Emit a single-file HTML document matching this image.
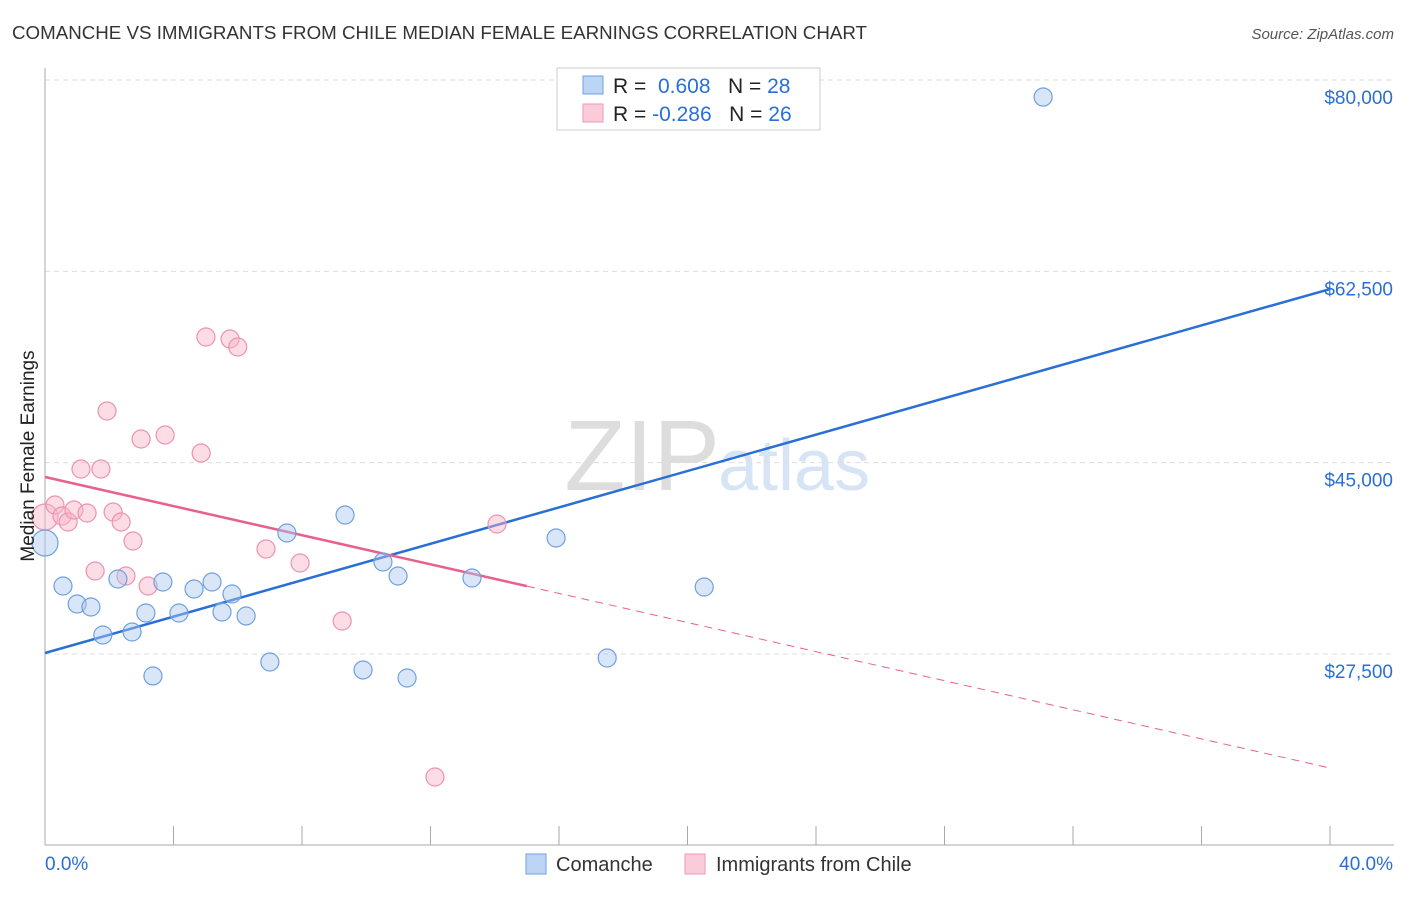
<!DOCTYPE html>
<html><head><meta charset="utf-8"><style>
body{margin:0;background:#fff;font-family:"Liberation Sans",sans-serif;}
svg text{font-family:"Liberation Sans",sans-serif;}
</style></head><body>
<svg width="1406" height="892" id="c">
<text x="12" y="39" font-size="18" fill="#333" textLength="855" lengthAdjust="spacingAndGlyphs">COMANCHE VS IMMIGRANTS FROM CHILE MEDIAN FEMALE EARNINGS CORRELATION CHART</text>
<text x="1394" y="39" font-size="15" fill="#555" text-anchor="end" font-style="italic">Source: ZipAtlas.com</text>
<text x="720" y="490" font-size="100" fill="#ddd" text-anchor="end" font-family="Liberation Serif">ZIP</text>
<text x="718" y="490" font-size="72" fill="#d6e4f5">atlas</text>
<g id="grid"></g><g id="axes"></g><g id="lines"></g><g id="pts"></g>
<text x="34" y="456" font-size="19" fill="#222" text-anchor="middle" transform="rotate(-90 34 456)">Median Female Earnings</text>
<g>
<rect x="557" y="68" width="263" height="62" fill="#fff" stroke="#ccc"/>
<rect x="583" y="76" width="20" height="18" fill="#bcd5f5" stroke="#6fa0e0"/>
<rect x="583" y="104" width="20" height="18" fill="#fbcbd9" stroke="#ee9ab4"/>
<text x="613" y="93" font-size="21" fill="#222">R = <tspan fill="#2a6fd6">&#160;0.608</tspan>&#160;&#160;&#160;N = <tspan fill="#2a6fd6">28</tspan></text>
<text x="613" y="121" font-size="21" fill="#222">R = <tspan fill="#2a6fd6">-0.286</tspan>&#160;&#160;&#160;N = <tspan fill="#2a6fd6">26</tspan></text>
</g>
<g>
<rect x="526" y="854" width="20" height="20" fill="#bcd5f5" stroke="#6fa0e0"/>
<text x="556" y="871" font-size="20" fill="#333">Comanche</text>
<rect x="685" y="854" width="20" height="20" fill="#fbcbd9" stroke="#ee9ab4"/>
<text x="716" y="871" font-size="20" fill="#333">Immigrants from Chile</text>
</g>
<text x="45" y="870" font-size="19" fill="#2a6fd6">0.0%</text>
<text x="1393" y="870" font-size="19" fill="#2a6fd6" text-anchor="end">40.0%</text>
</svg>
<script>
const yTicks=[80000,62500,45000,27500];
const yTickLabels=["$80,000","$62,500","$45,000","$27,500"];
const blueX=[31.07,0,0.56,1.0,1.43,1.8,2.27,2.71,3.14,3.36,3.67,4.17,4.64,5.2,5.51,5.82,6.26,7.0,7.53,9.34,9.9,10.52,10.99,11.27,13.29,15.91,17.5,20.52];
const blueY=[78443,37652,33719,32073,31799,29238,34360,29512,31250,25488,34085,31250,33445,34085,31341,32988,30976,26768,38567,40213,26037,35914,34634,25305,34451,38109,27134,33628];
const pinkX=[0,0.31,0.53,0.72,0.9,1.31,1.12,1.74,1.93,2.12,2.37,2.74,1.56,2.52,2.99,3.21,3.74,4.86,5.01,5.76,6.0,6.88,7.94,9.25,14.07,12.14];
const pinkY=[40030,41127,40122,39573,40670,40396,44420,44420,49725,40487,39573,37835,35091,34634,47164,33719,47530,45884,56493,56310,55578,37103,35823,30518,39390,16250];
const blueTrend=[27591,60883];
const pinkTrend=[43688,17074];
const pinkSolidEnd=15.0;
const NS="http://www.w3.org/2000/svg";
const X=p=>45+p/40*1285;
const Y=v=>654-(v-27500)*191.33/17500;
function mk(tag,attrs,parent){const e=document.createElementNS(NS,tag);for(const k in attrs)e.setAttribute(k,attrs[k]);document.getElementById(parent).appendChild(e);return e;}
yTicks.forEach((v,i)=>{
 let l=mk('line',{x1:45,x2:1394,y1:Y(v),y2:Y(v),stroke:'#ddd','stroke-dasharray':'5,4'},'grid');
 
 
 let t=mk('text',{x:1393,y:Y(v)+24,'font-size':19,fill:'#2a6fd6','text-anchor':'end'},'grid');
 t.textContent=yTickLabels[i];
 
 
});
let ax=mk('line',{x1:45,x2:45,y1:68,y2:845,stroke:'#aaa'},'axes');


let bx=mk('line',{x1:45,x2:1394,y1:845,y2:845,stroke:'#aaa'},'axes');


for(let i=0;i<=10;i++){let t=mk('line',{x1:X(i*4),x2:X(i*4),y1:826,y2:845,stroke:'#aaa'},'axes');
 
 }
let bl=mk('line',{x1:X(0),y1:Y(blueTrend[0]),x2:X(40),y2:Y(blueTrend[1]),stroke:'#2a6fd6','stroke-width':2.5},'lines');


const pAt=p=>pinkTrend[0]+(pinkTrend[1]-pinkTrend[0])*p/40;
let pl=mk('line',{x1:X(0),y1:Y(pinkTrend[0]),x2:X(pinkSolidEnd),y2:Y(pAt(pinkSolidEnd)),stroke:'#e8618c','stroke-width':2.5},'lines');


let pd=mk('line',{x1:X(pinkSolidEnd),y1:Y(pAt(pinkSolidEnd)),x2:X(40),y2:Y(pinkTrend[1]),stroke:'#e8618c','stroke-width':1,'stroke-dasharray':'8,6'},'lines');


pinkX.forEach((x,i)=>{let c=mk('circle',{cx:X(x),cy:Y(pinkY[i]),r:i==0?13:9,fill:'rgba(248,180,200,0.45)',stroke:'#eb93b0','stroke-width':1.2},'pts');
 
 });
blueX.forEach((x,i)=>{let c=mk('circle',{cx:X(x),cy:Y(blueY[i]),r:i==1?13:9,fill:'rgba(170,200,240,0.45)',stroke:'#6fa0e0','stroke-width':1.2},'pts');
 
 });
</script>
</body></html>
